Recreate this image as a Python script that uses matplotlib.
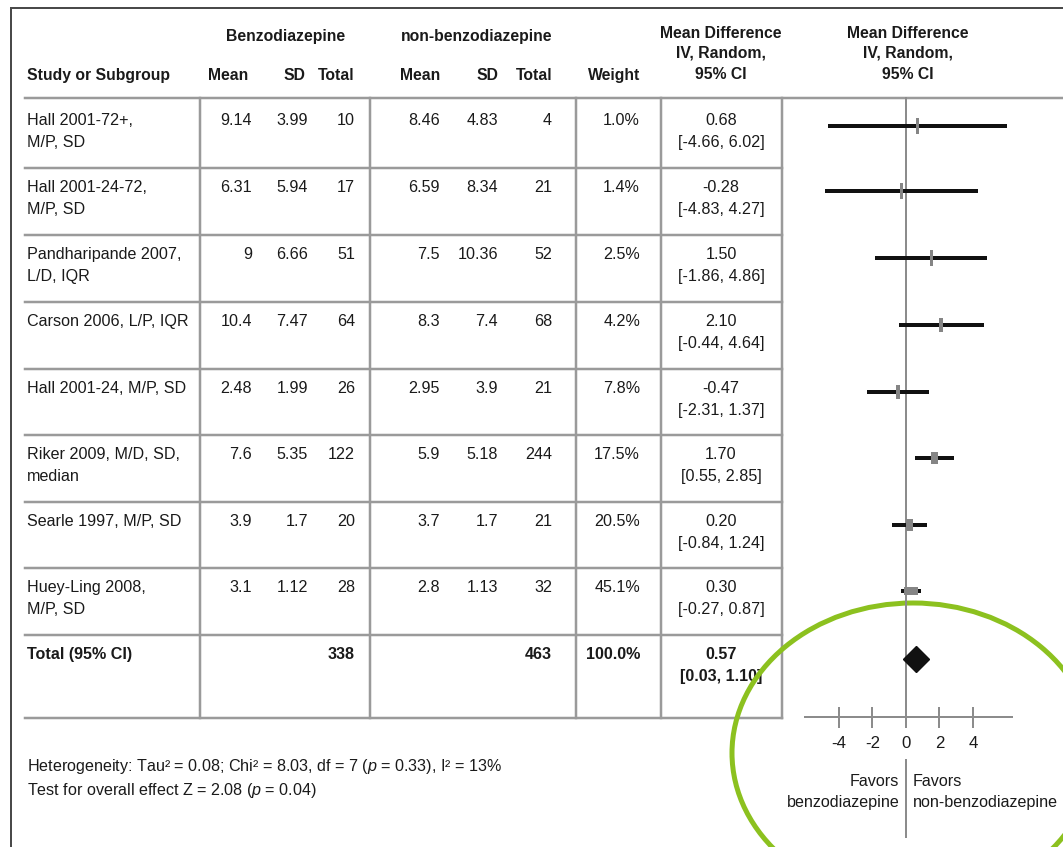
"""Forest plot: benzodiazepine vs non-benzodiazepine, mean difference."""

import matplotlib.pyplot as plt
from matplotlib.patches import Ellipse, Rectangle

plt.rcParams["font.family"] = ["Liberation Sans", "DejaVu Sans"]
plt.rcParams["mathtext.fontset"] = "custom"
plt.rcParams["mathtext.rm"] = "Liberation Sans"
plt.rcParams["mathtext.it"] = "Liberation Sans:italic"

studies = ["Hall 2001-72+,\nM/P, SD", "Hall 2001-24-72,\nM/P, SD",
           "Pandharipande 2007,\nL/D, IQR", "Carson 2006, L/P, IQR",
           "Hall 2001-24, M/P, SD", "Riker 2009, M/D, SD,\nmedian",
           "Searle 1997, M/P, SD", "Huey-Ling 2008,\nM/P, SD"]
benz_mean = [9.14, 6.31, 9, 10.4, 2.48, 7.6, 3.9, 3.1]
benz_sd = [3.99, 5.94, 6.66, 7.47, 1.99, 5.35, 1.7, 1.12]
benz_n = [10, 17, 51, 64, 26, 122, 20, 28]
non_mean = [8.46, 6.59, 7.5, 8.3, 2.95, 5.9, 3.7, 2.8]
non_sd = [4.83, 8.34, 10.36, 7.4, 3.9, 5.18, 1.7, 1.13]
non_n = [4, 21, 52, 68, 21, 244, 21, 32]
weight = [1.0, 1.4, 2.5, 4.2, 7.8, 17.5, 20.5, 45.1]
md = [0.68, -0.28, 1.50, 2.10, -0.47, 1.70, 0.20, 0.30]
ci_lo = [-4.66, -4.83, -1.86, -0.44, -2.31, 0.55, -0.84, -0.27]
ci_hi = [6.02, 4.27, 4.86, 4.64, 1.37, 2.85, 1.24, 0.87]
total_n = (338, 463)
total_md, total_lo, total_hi = 0.57, 0.03, 1.10
axis_ticks = [-4, -2, 0, 2, 4]
tick_labels = ["-4", "-2", "0", "2", "4"]

W, H = 1063, 847
ZERO_PX, PX_PER_UNIT = 906, 16.75
ROW_TOPS = [98, 168, 235, 302, 369, 435, 502, 568, 635]
TABLE_BOTTOM = 718
VCOLS = [200, 370, 576, 661, 782]
LINE = "#9a9a9a"
TXT = "#1a1a1a"
FS = 11.6
FSB = 11.3
px = 0.72  # one pixel in points

fig = plt.figure(figsize=(W / 100, H / 100), dpi=100)
tab = fig.add_axes([0, 0, 1, 1])
tab.set_xlim(0, W)
tab.set_ylim(H, 0)
tab.axis("off")

# forest axis: x in mean-difference units, y in pixels
fx = fig.add_axes([0, 0, 1, 1])
fx.set_xlim(-ZERO_PX / PX_PER_UNIT, (W - ZERO_PX) / PX_PER_UNIT)
fx.set_ylim(H, 0)
fx.axis("off")
fx.patch.set_alpha(0)

# outer frame
tab.plot([11, W], [8, 8], color="#4a4a4a", lw=2 * px)
tab.plot([11, 11], [8, H], color="#4a4a4a", lw=2 * px)

# table grid
tab.plot([25, W], [ROW_TOPS[0], ROW_TOPS[0]], color=LINE, lw=2.5 * px)
for y in ROW_TOPS[1:] + [TABLE_BOTTOM]:
    tab.plot([25, VCOLS[-1]], [y, y], color=LINE, lw=2.5 * px)
for x in VCOLS:
    tab.plot([x, x], [ROW_TOPS[0], TABLE_BOTTOM], color=LINE, lw=2.5 * px)

# headers
hb = dict(fontsize=FSB, fontweight="bold", color=TXT, va="baseline")
tab.text(286, 41, "Benzodiazepine", ha="center", **hb)
tab.text(477, 41, "non-benzodiazepine", ha="center", **hb)
tab.text(27, 80, "Study or Subgroup", ha="left", **hb)
for x, lab in zip([248, 305, 355, 440, 498, 553, 640],
                  ["Mean", "SD", "Total", "Mean", "SD", "Total", "Weight"]):
    tab.text(x, 80, lab, ha="right", **hb)
for cx in (721, 908):
    for y, lab in zip([38, 58, 79], ["Mean Difference", "IV, Random,", "95% CI"]):
        tab.text(cx, y, lab, ha="center", **hb)

# study rows
num_x = [252, 308, 355, 440, 498, 552, 640]
body = dict(fontsize=FS, color=TXT, va="baseline")
for i, name in enumerate(studies):
    top = ROW_TOPS[i]
    y1 = top + (27 if i == 0 else 24)
    y2 = y1 + 22
    for k, line in enumerate(name.split("\n")):
        tab.text(27, y1 + 22 * k, line, ha="left", **body)
    vals = [benz_mean[i], benz_sd[i], benz_n[i],
            non_mean[i], non_sd[i], non_n[i]]
    for x, v in zip(num_x[:6], vals):
        tab.text(x, y1, str(v), ha="right", **body)
    tab.text(num_x[6], y1, f"{weight[i]:.1f}%", ha="right", **body)
    tab.text(721, y1, f"{md[i]:.2f}", ha="center", **body)
    tab.text(721, y2, f"[{ci_lo[i]:.2f}, {ci_hi[i]:.2f}]", ha="center", **body)

# total row
top = ROW_TOPS[-1]
bb = dict(fontsize=FS, fontweight="bold", color=TXT, va="baseline")
tab.text(27, top + 24, "Total (95% CI)", ha="left", **bb)
tab.text(num_x[2], top + 24, str(total_n[0]), ha="right", **bb)
tab.text(num_x[5], top + 24, str(total_n[1]), ha="right", **bb)
tab.text(num_x[6], top + 24, f"{sum(weight):.1f}%", ha="right", **bb)
tab.text(721, top + 24, f"{total_md:.2f}", ha="center", **bb)
tab.text(721, top + 46, f"[{total_lo:.2f}, {total_hi:.2f}]", ha="center", **bb)

# footnotes
tab.text(27, 771, "Heterogeneity: Tau² = 0.08; Chi² = 8.03, df = 7 ($\\mathit{p}$ = 0.33), I² = 13%",
         ha="left", **body)
tab.text(27, 795, "Test for overall effect Z = 2.08 ($\\mathit{p}$ = 0.04)", ha="left", **body)

# forest plot
fx.plot([0, 0], [ROW_TOPS[0], TABLE_BOTTOM - 1], color="#8c8c8c", lw=2 * px, zorder=1)
for i in range(len(studies)):
    yc = ROW_TOPS[i] + (28 if i == 0 else 23)
    fx.plot([ci_lo[i], ci_hi[i]], [yc, yc], color="#111111", lw=4 * px,
            solid_capstyle="butt", zorder=2)
    bw = (2.5 + 0.25 * weight[i]) / PX_PER_UNIT
    bh = max(8.5, 15.5 - 0.15 * weight[i])
    fx.add_patch(Rectangle((md[i] - bw / 2, yc - bh / 2), bw, bh,
                           facecolor="#858585", edgecolor="#858585", lw=0, zorder=3))
fx.plot([total_md], [ROW_TOPS[-1] + 24], marker="D", markersize=13.5,
        color="#111111", zorder=3)

# x axis of forest
axis_y = 717
fx.plot([-6.0, 6.3], [axis_y, axis_y], color="#8c8c8c", lw=2 * px)
for t, lab in zip(axis_ticks, tick_labels):
    fx.plot([t, t], [axis_y - 9, axis_y + 10], color="#8c8c8c", lw=2 * px)
    fx.text(t, 748, lab, ha="center", va="baseline", fontsize=FS + 0.5, color=TXT)

fx.plot([0, 0], [760, 837], color="#8c8c8c", lw=2 * px)
fav = dict(va="baseline", fontsize=FS, color=TXT)
fx.text(-0.4, 786, "Favors", ha="right", **fav)
fx.text(-0.4, 807, "benzodiazepine", ha="right", **fav)
fx.text(0.4, 786, "Favors", ha="left", **fav)
fx.text(0.4, 807, "non-benzodiazepine", ha="left", **fav)

# highlight ring
tab.add_patch(Ellipse((913, 753), 362, 300, fill=False, edgecolor="#8cc11f",
                      lw=5 * px, zorder=5))

fig.savefig("out.png", dpi=100)
